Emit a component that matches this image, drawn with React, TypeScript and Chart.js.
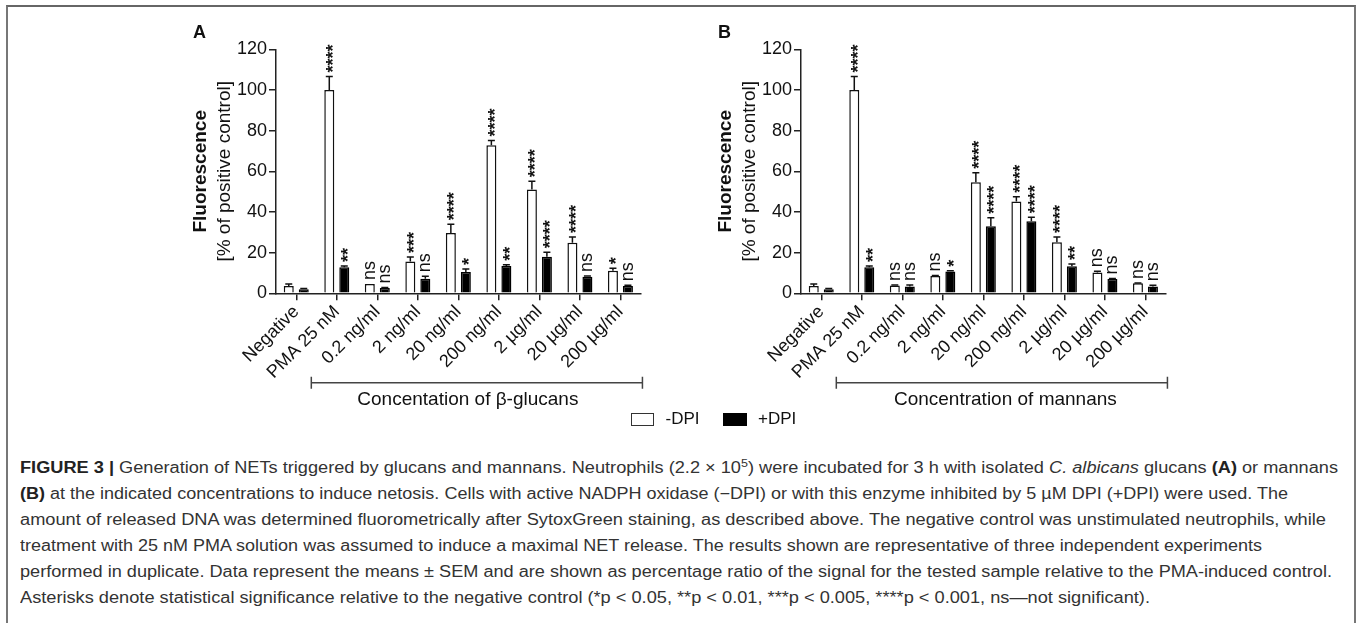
import React, { useEffect, useLayoutEffect, useRef } from 'react';
import { Chart, registerables } from 'chart.js';

Chart.register(...registerables);

const FONT = "'Liberation Sans', Arial, Helvetica, sans-serif";
Chart.defaults.font.family = FONT;
Chart.defaults.color = '#222';

// ---------- data ----------
const categories = ['Negative', 'PMA 25 nM', '0.2 ng/ml', '2 ng/ml', '20 ng/ml', '200 ng/ml', '2 µg/ml', '20 µg/ml', '200 µg/ml'];
const yMin = 0;
const yMax = 120;
const yStep = 20;
const seriesNames = ['-DPI', '+DPI'];

// Panel A – β-glucans
const glucanMinusDPI = [3.6, 100, 4.6, 15.6, 29.7, 72.8, 51.1, 24.9, 11.1];
const glucanMinusDPISem = [1.0, 6.6, 0, 2.3, 4.2, 2.4, 4.0, 2.8, 1.2];
const glucanPlusDPI = [2.0, 12.8, 2.6, 7.2, 10.5, 13.4, 18.0, 8.2, 3.6];
const glucanPlusDPISem = [0.3, 0.6, 0.3, 1.2, 1.5, 0.7, 2.2, 0.3, 0.3];
const glucanMinusSig = ['', '****', 'ns', '***', '****', '****', '****', '****', '*'];
const glucanPlusSig = ['', '**', 'ns', 'ns', '*', '**', '****', 'ns', 'ns'];

// Panel B – mannans
const mannanMinusDPI = [3.6, 100, 3.8, 8.5, 54.6, 45.2, 25.1, 10.2, 4.9];
const mannanMinusDPISem = [1.0, 6.6, 0.3, 0.3, 4.7, 2.3, 2.6, 0.6, 0.2];
const mannanPlusDPI = [2.0, 12.8, 3.3, 10.7, 33.0, 35.4, 13.3, 7.0, 3.4];
const mannanPlusDPISem = [0.3, 0.6, 0.8, 0.4, 4.2, 2.0, 1.1, 0.3, 0.5];
const mannanMinusSig = ['', '****', 'ns', 'ns', '****', '****', '****', 'ns', 'ns'];
const mannanPlusSig = ['', '**', 'ns', '*', '****', '****', '**', 'ns', 'ns'];

const captionLines: { parts: { t: string; s?: 'b' | 'i' | 'sup' }[]; end: number }[] = [
  {
    parts: [
      { t: 'FIGURE 3 | ', s: 'b' },
      { t: 'Generation of NETs triggered by glucans and mannans. Neutrophils (2.2 × 10' },
      { t: '5', s: 'sup' },
      { t: ') were incubated for 3 h with isolated ' },
      { t: 'C. albicans', s: 'i' },
      { t: ' glucans ' },
      { t: '(A)', s: 'b' },
      { t: ' or mannans' },
    ],
    end: 1338,
  },
  {
    parts: [
      { t: '(B)', s: 'b' },
      { t: ' at the indicated concentrations to induce netosis. Cells with active NADPH oxidase (−DPI) or with this enzyme inhibited by 5 µM DPI (+DPI) were used. The' },
    ],
    end: 1288,
  },
  {
    parts: [{ t: 'amount of released DNA was determined fluorometrically after SytoxGreen staining, as described above. The negative control was unstimulated neutrophils, while' }],
    end: 1326,
  },
  {
    parts: [{ t: 'treatment with 25 nM PMA solution was assumed to induce a maximal NET release. The results shown are representative of three independent experiments' }],
    end: 1262,
  },
  {
    parts: [{ t: 'performed in duplicate. Data represent the means ± SEM and are shown as percentage ratio of the signal for the tested sample relative to the PMA-induced control.' }],
    end: 1332,
  },
  {
    parts: [{ t: 'Asterisks denote statistical significance relative to the negative control (*p < 0.05, **p < 0.01, ***p < 0.005, ****p < 0.001, ns—not significant).' }],
    end: 1150,
  },
];

type PanelProps = {
  letter: string;
  minus: number[];
  minusSem: number[];
  plus: number[];
  plusSem: number[];
  minusSig: string[];
  plusSig: string[];
  groupLabel: string;
  labelShift: number;
  left: number;
};

function drawRotatedInk(ctx: CanvasRenderingContext2D, text: string, x: number, yStart: number, font: string) {
  ctx.save();
  ctx.font = font;
  const m = ctx.measureText(text);
  const asc = m.actualBoundingBoxAscent;
  const desc = m.actualBoundingBoxDescent;
  ctx.translate(x, yStart);
  ctx.rotate(-Math.PI / 2);
  ctx.textAlign = 'left';
  ctx.textBaseline = 'alphabetic';
  ctx.fillText(text, 0, (asc - desc) / 2);
  ctx.restore();
}

function drawRotatedCentered(ctx: CanvasRenderingContext2D, text: string, x: number, yMid: number, font: string) {
  ctx.save();
  ctx.font = font;
  const m = ctx.measureText(text);
  const asc = m.actualBoundingBoxAscent;
  const desc = m.actualBoundingBoxDescent;
  ctx.translate(x, yMid);
  ctx.rotate(-Math.PI / 2);
  ctx.textAlign = 'center';
  ctx.textBaseline = 'alphabetic';
  ctx.fillText(text, 0, (asc - desc) / 2);
  ctx.restore();
}

function Panel(p: PanelProps) {
  const ref = useRef<HTMLCanvasElement | null>(null);
  useEffect(() => {
    if (!ref.current) return;
    const decor = {
      id: 'decor',
      afterDraw(chart: any) {
        const { ctx, chartArea, scales } = chart;
        const x = scales.x;
        const y = scales.y;
        const vals = [p.minus, p.plus];
        const sems = [p.minusSem, p.plusSem];
        const sigs = [p.minusSig, p.plusSig];
        ctx.save();
        ctx.strokeStyle = '#111';
        ctx.lineWidth = 1.5;
        ctx.fillStyle = '#111';
        for (let d = 0; d < 2; d++) {
          const meta = chart.getDatasetMeta(d);
          meta.data.forEach((el: any, i: number) => {
            const v = vals[d][i];
            const s = sems[d][i];
            const top = y.getPixelForValue(v + s);
            if (s > 0) {
              ctx.beginPath();
              ctx.moveTo(el.x, el.y);
              ctx.lineTo(el.x, top);
              ctx.moveTo(el.x - 3.5, top);
              ctx.lineTo(el.x + 3.5, top);
              ctx.stroke();
            }
            const label = sigs[d][i];
            if (label) {
              const font = label === 'ns' ? `18px ${FONT}` : `bold 18px ${FONT}`;
              drawRotatedInk(ctx, label, el.x, Math.min(top, el.y) - 4, font);
            }
          });
        }
        // y title
        const mid = (chartArea.top + chartArea.bottom) / 2;
        drawRotatedCentered(ctx, 'Fluorescence', chartArea.left - 77, mid, `bold 19px ${FONT}`);
        drawRotatedCentered(ctx, '[% of positive control]', chartArea.left - 51, mid, `19px ${FONT}`);
        // panel letter
        ctx.font = `bold 18px ${FONT}`;
        ctx.textAlign = 'left';
        ctx.textBaseline = 'alphabetic';
        ctx.fillStyle = '#111';
        ctx.fillText(p.letter, chartArea.left - 83, 38);
        // bracket
        const bl = x.getPixelForValue(2) - 66;
        const br = x.getPixelForValue(8) + 22;
        const by = 382.7;
        ctx.strokeStyle = '#444';
        ctx.lineWidth = 1.5;
        ctx.beginPath();
        ctx.moveTo(bl, by);
        ctx.lineTo(br, by);
        ctx.moveTo(bl, by - 6);
        ctx.lineTo(bl, by + 6);
        ctx.moveTo(br, by - 6);
        ctx.lineTo(br, by + 6);
        ctx.stroke();
        ctx.font = `19px ${FONT}`;
        ctx.textAlign = 'center';
        ctx.fillStyle = '#111';
        ctx.fillText(p.groupLabel, (bl + br) / 2 + p.labelShift, 405);
        ctx.restore();
      },
    };
    const chart = new Chart(ref.current, {
      type: 'bar',
      data: {
        labels: categories,
        datasets: [
          { label: seriesNames[0], data: p.minus, backgroundColor: '#fff', borderColor: '#111', borderWidth: 1.5 },
          { label: seriesNames[1], data: p.plus, backgroundColor: '#000', borderColor: '#000', borderWidth: 1.5 },
        ],
      },
      options: {
        responsive: false,
        animation: false,
        events: [],
        layout: { padding: { top: 49.3, right: 29.3, bottom: 0, left: 0 } },
        plugins: { legend: { display: false }, tooltip: { enabled: false } },
        datasets: { bar: { categoryPercentage: 0.74, barPercentage: 0.667 } } as any,
        scales: {
          x: {
            offset: true,
            grid: { display: true, drawOnChartArea: false, offset: false, tickLength: 7, color: '#222', lineWidth: 1.5 } as any,
            border: { display: true, color: '#222', width: 1.5 },
            ticks: { minRotation: 45, maxRotation: 45, autoSkip: false, font: { size: 18 }, color: '#111', padding: 1 },
            afterFit(s: any) {
              s.height = 146.7;
            },
          },
          y: {
            min: yMin,
            max: yMax,
            ticks: { stepSize: yStep, font: { size: 18 }, color: '#111', padding: 2 },
            grid: { drawOnChartArea: false, tickLength: 7, color: '#222', lineWidth: 1.5 },
            border: { display: true, color: '#222', width: 1.5 },
            afterFit(s: any) {
              s.width = 126;
            },
          },
        },
      },
      plugins: [decor],
    });
    return () => chart.destroy();
  }, []);
  return (
    <canvas
      ref={ref}
      width={520}
      height={440}
      style={{ position: 'absolute', left: p.left, top: 0, width: 520, height: 440 }}
    />
  );
}

function CaptionLine({ line, baseline }: { line: (typeof captionLines)[number]; baseline: number }) {
  const ref = useRef<HTMLDivElement | null>(null);
  useLayoutEffect(() => {
    const el = ref.current;
    if (!el) return;
    el.style.transform = 'none';
    const w = el.getBoundingClientRect().width;
    const target = line.end - 20;
    if (w > 0) el.style.transform = `scaleX(${target / w})`;
  }, []);
  return (
    <div
      ref={ref}
      style={{
        position: 'absolute',
        left: 20,
        top: baseline - 15.55,
        whiteSpace: 'nowrap',
        fontSize: 16,
        lineHeight: '20px',
        fontFamily: FONT,
        color: '#333',
        transformOrigin: '0 0',
        display: 'inline-block',
      }}
    >
      {line.parts.map((pt, i) => {
        if (pt.s === 'b') return <b key={i} style={{ color: '#222' }}>{pt.t}</b>;
        if (pt.s === 'i') return <i key={i}>{pt.t}</i>;
        if (pt.s === 'sup')
          return (
            <span key={i} style={{ fontSize: 11, verticalAlign: 'super', lineHeight: 0 }}>
              {pt.t}
            </span>
          );
        return <span key={i}>{pt.t}</span>;
      })}
    </div>
  );
}

export default function App() {
  const baselines = [474, 500, 526, 552, 578, 604];
  return (
    <div
      style={{
        position: 'fixed',
        left: 0,
        top: 0,
        width: 1357,
        height: 623,
        background: '#fff',
        overflow: 'hidden',
        fontFamily: FONT,
      }}
    >
      <div
        style={{
          position: 'absolute',
          left: 6,
          top: 5,
          width: 1350,
          height: 640,
          boxSizing: 'border-box',
          borderTop: '2px solid #666',
          borderLeft: '2px solid #777',
          borderRight: '2px solid #777',
        }}
      />
      <Panel
        letter="A"
        minus={glucanMinusDPI}
        minusSem={glucanMinusDPISem}
        plus={glucanPlusDPI}
        plusSem={glucanPlusDPISem}
        minusSig={glucanMinusSig}
        plusSig={glucanPlusSig}
        groupLabel="Concentation of β-glucans"
        labelShift={-9}
        left={150}
      />
      <Panel
        letter="B"
        minus={mannanMinusDPI}
        minusSem={mannanMinusDPISem}
        plus={mannanPlusDPI}
        plusSem={mannanPlusDPISem}
        minusSig={mannanMinusSig}
        plusSig={mannanPlusSig}
        groupLabel="Concentration of mannans"
        labelShift={3.5}
        left={675}
      />
      {/* legend */}
      <div style={{ position: 'absolute', left: 631, top: 413, width: 23, height: 12.5, boxSizing: 'border-box', border: '1.5px solid #333', background: '#fff' }} />
      <div style={{ position: 'absolute', left: 665.5, top: 409, fontSize: 17, lineHeight: '20px', color: '#111' }}>{seriesNames[0]}</div>
      <div style={{ position: 'absolute', left: 723.3, top: 413, width: 23.4, height: 12.5, background: '#000' }} />
      <div style={{ position: 'absolute', left: 758, top: 409, fontSize: 17, lineHeight: '20px', color: '#111' }}>{seriesNames[1]}</div>
      {captionLines.map((l, i) => (
        <CaptionLine key={i} line={l} baseline={baselines[i]} />
      ))}
    </div>
  );
}
